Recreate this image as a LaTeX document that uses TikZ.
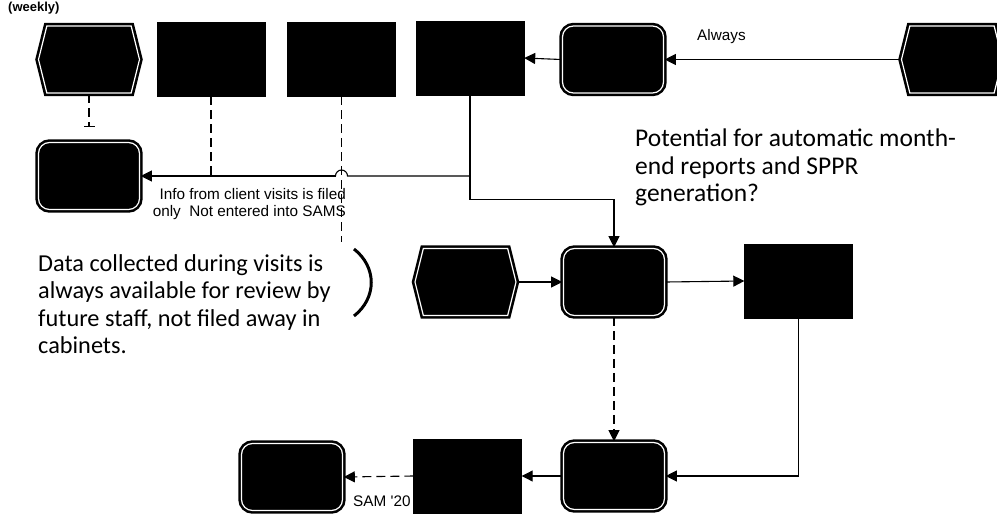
\documentclass[tikz,border=0pt]{standalone}
\usepackage{fontspec}
\setmainfont{Carlito}
\newfontfamily\arialf{Liberation Sans}
\usetikzlibrary{arrows.meta,shapes.symbols,calc}

\tikzset{
  plainbox/.style={fill=black, draw=black, minimum width=108pt, minimum height=74pt, inner sep=0pt},
  roundbox/.style={fill=black, draw=black, double=white, double distance=1.2pt, line width=2.6pt,
    rounded corners=11pt, minimum width=101pt, minimum height=67pt, inner sep=0pt},
  hexbox/.style={signal, signal to=east and west, signal pointer angle=152,
    fill=black, draw=black, double=white, double distance=1.2pt, line width=2.6pt,
    minimum width=101pt, minimum height=67pt, inner sep=0pt},
  conn/.style={line width=1.1pt, -{Triangle[length=11pt,width=11pt]}},
  dashconn/.style={conn, dash pattern=on 9pt off 5pt},
  dashline/.style={line width=1.2pt, dash pattern=on 9pt off 5pt},
  note/.style={font=\fontsize{25.5}{27.5}\selectfont, align=left, inner sep=0pt},
  smalltxt/.style={font=\arialf\fontsize{15.3}{17}\selectfont, inner sep=0pt},
}

\begin{document}
\begin{tikzpicture}[x=1pt,y=-1pt]
\useasboundingbox (0,0) rectangle (997,514);
\fill[white] (0,0) rectangle (997,514);

% top row
\node[hexbox]   (A) at (89,59.5) {};
\node[plainbox] (B) at (211,59) {};
\node[plainbox] (C) at (341.5,59) {};
\node[plainbox] (D) at (470,58) {};
\node[roundbox] (E) at (613,59.5) {};
\node[hexbox]   (F) at (952,59.5) {};

% left column
\node[roundbox] (G) at (89,176) {};

% middle row
\node[hexbox]   (I) at (465.5,282) {};
\node[roundbox] (H) at (614,282) {};
\node[plainbox] (J) at (798.5,281) {};

% bottom row
\node[smalltxt, anchor=west] (samlbl) at (353,501) {SAM '20};
\node[roundbox] (L) at (292,477) {};
\node[plainbox] (M) at (467.5,476) {};
\node[roundbox] (K) at (614,476) {};

% texts
\node[font=\arialf\bfseries\fontsize{13}{15}\selectfont, anchor=west, inner sep=0pt] (wk) at (8,8) {(weekly)};
\node[note, anchor=north west] (pot) at (635,129) {Potential for automatic month-\\end reports and SPPR\\generation?};
\node[note, font=\fontsize{24.3}{27.6}\selectfont, anchor=north west] (dat) at (38,254) {Data collected during visits is\\always available for review by\\future staff, not filed away in\\cabinets.};
\node[smalltxt, align=right, anchor=north east] (info) at (346,188) {Info from client visits is filed\\only\ \ Not entered into SAMS};

% connectors along the top
\draw[conn] (F.west) -- (E.east);
\node[smalltxt, anchor=west] (alw) at (697,37) {Always};
\draw[conn] (E.west) -- (D.east);

% weekly start to the left box
\coordinate (gbar) at (89,127);
\draw[dashline, -{Bar[width=11pt,line width=1.4pt]}] (A.south) -- (gbar);

% filing path into the left box, hopping over the dashed drop
\coordinate (dturn) at (D.south |- G.east);
\coordinate (hopR) at ($(C.south |- G.east)+(6,0)$);
\coordinate (hopL) at ($(C.south |- G.east)+(-6,0)$);
\draw[line width=1.1pt] (D.south) -- (dturn) -- (hopR) arc[start angle=0, end angle=180, radius=6pt];
\draw[conn] (hopL) -- (G.east);
\draw[dashline] (B.south) -- (B.south |- G.east);
\draw[dashline] (C.south) -- ++(0,146);

% down to the middle row
\draw[conn] (D.south) -- ++(0,104) -| (H.north);
\draw[conn] (I.east) -- (H.west);
\draw[conn] (H.east) -- (J.west);

% down to the bottom row
\draw[dashconn] (H.south) -- (K.north);
\draw[conn] (J.south) |- (K.east);
\draw[conn] (K.west) -- (M.east);
\draw[dashconn] (M.west) -- (L.east);

% bracket beside the note
\draw[line width=3pt] (354,249) .. controls (377,267) and (377,298) .. (354,316);
\end{tikzpicture}
\end{document}
